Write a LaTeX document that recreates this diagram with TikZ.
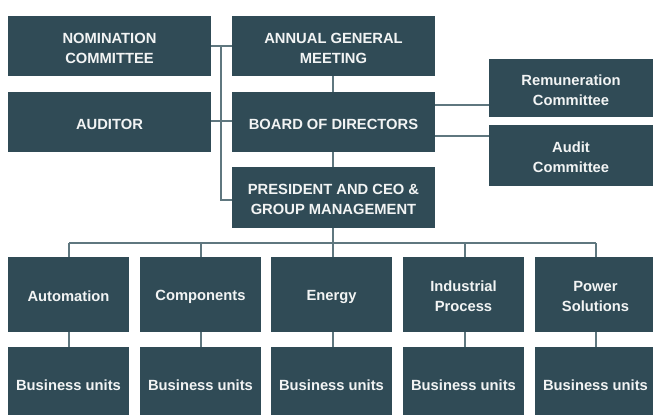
\documentclass[tikz,border=0pt]{standalone}
\usepackage{fontspec}
\setmainfont{Liberation Sans}
\definecolor{boxfill}{HTML}{304B56}
\definecolor{linecol}{HTML}{5F777F}
\definecolor{txtcol}{HTML}{F2F4F4}
\tikzset{
  orgbox/.style={fill=boxfill, draw=none, inner sep=0pt, text=txtcol,
    font=\fontsize{14.8}{20}\selectfont\bfseries, align=center},
  conn/.style={draw=linecol, line width=1.3bp}
}
\newcommand{\orgnode}[6]{% name, x1, y1, x2, y2, text
  \path[orgbox] (#2,#3) rectangle (#4,#5);
  \node[orgbox, fill=none, yshift=-2bp, minimum width={(#4-#2)*1bp}, minimum height={(#5-#3)*1bp}] (#1) at ({(#2+#4)/2},{(#3+#5)/2}) {#6};
}
\begin{document}
\begin{tikzpicture}[x=1bp,y=-1bp]
\useasboundingbox (0,0) rectangle (653,414);
\begin{scope}
\clip (0,0) rectangle (653,414);
% connectors first
\coordinate (vtop) at (221,46);
\coordinate (vbot) at (221,200);
\coordinate (busL) at (69,243);
\coordinate (busR) at (596,243);
\coordinate (busC) at (333,243);
\draw[conn] (211,46) -- (232,46);
\draw[conn] (vtop) -- (vbot) -- (232,200);
\draw[conn] (211,121) -- (232,121);
\draw[conn] (333,76) -- (333,92);
\draw[conn] (333,152) -- (333,167);
\draw[conn] (435,105) -- (489,105);
\draw[conn] (435,136) -- (489,136);
\draw[conn] (333,228) -- (busC);
\draw[conn] (busL) -- (busR);
\foreach \cx in {69,201,333,465,596}{
  \draw[conn] (\cx,243) -- (\cx,257);
  \draw[conn] (\cx,331) -- (\cx,347);
}
% boxes
\orgnode{nom}{8}{16}{211}{76}{NOMINATION\\COMMITTEE}
\orgnode{agm}{232}{16}{435}{76}{ANNUAL GENERAL\\MEETING}
\orgnode{aud}{8}{92}{211}{152}{AUDITOR}
\orgnode{bod}{232}{92}{435}{152}{BOARD OF DIRECTORS}
\orgnode{pres}{232}{167}{435}{228}{PRESIDENT AND CEO \&\\GROUP MANAGEMENT}
\orgnode{rem}{489}{59}{653}{117}{Remuneration\\Committee}
\orgnode{audc}{489}{125}{653}{186}{Audit\\Committee}
\orgnode{auto}{8}{257}{129}{332}{Automation}
\orgnode{comp}{140}{257}{261}{332}{Components}
\orgnode{ener}{271}{257}{392}{332}{Energy}
\orgnode{indp}{403}{257}{524}{332}{Industrial\\Process}
\orgnode{powr}{535}{257}{656}{332}{Power\\Solutions}
\orgnode{bu1}{8}{347}{129}{420}{Business units}
\orgnode{bu2}{140}{347}{261}{420}{Business units}
\orgnode{bu3}{271}{347}{392}{420}{Business units}
\orgnode{bu4}{403}{347}{524}{420}{Business units}
\orgnode{bu5}{535}{347}{656}{420}{Business units}
\end{scope}
\end{tikzpicture}
\end{document}
